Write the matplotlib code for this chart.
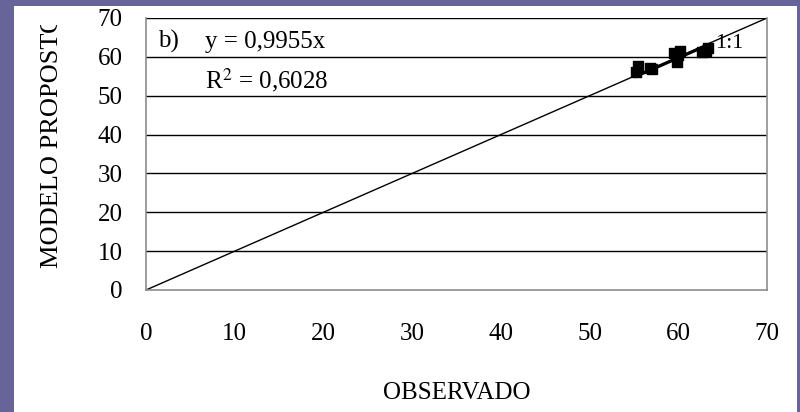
import matplotlib
matplotlib.use("Agg")
import matplotlib.pyplot as plt
from matplotlib.patches import Rectangle
from matplotlib.transforms import Bbox
import numpy as np

plt.rcParams["mathtext.fontset"] = "stix"

# Observed vs. predicted values
observado = [55.2, 55.5, 57.0, 56.8, 59.5, 59.8, 60.0, 60.2, 62.7, 63.1, 63.4]
modelo = [56.0, 57.6, 57.0, 57.2, 61.0, 58.8, 60.4, 61.6, 61.2, 61.5, 62.4]
slope = 0.9955
r2_text = "0,6028"
ticks = [0, 10, 20, 30, 40, 50, 60, 70]

W, H = 800, 412
fig = plt.figure(figsize=(W / 100, H / 100), dpi=100)
fig.patch.set_facecolor("#676499")
fig.patches.append(Rectangle((14 / W, 0), (797 - 14) / W, (H - 6) / H,
                             transform=fig.transFigure, facecolor="white",
                             edgecolor="none", zorder=-5))

serif = ["Liberation Serif", "DejaVu Serif"]
ax = fig.add_axes([146 / W, (H - 290) / H, (767 - 146) / W, (290 - 18) / H])
ax.set_zorder(2)
ax.set_xlim(0, 70)
ax.set_ylim(0, 70)
ax.set_facecolor("white")

for v in ticks[1:]:
    ax.axhline(v, color="black", lw=1.0, zorder=1)

# 1:1 reference line
ax.plot([0, 70], [0, 70], color="black", lw=1.0, zorder=2)
# fitted line through the origin
xf = np.array([min(observado), max(observado)])
ax.plot(xf, slope * xf, color="black", lw=2.2, zorder=3)
ax.scatter(observado, modelo, marker="s", s=55, color="black", zorder=4)

for s in ax.spines.values():
    s.set_color("#8c8c8c")
    s.set_linewidth(1.2)
ax.spines["top"].set_visible(False)

ax.set_xticks(ticks)
ax.set_yticks(ticks)
ax.tick_params(length=0, labelsize=18)
ax.tick_params(axis="x", pad=24)
ax.tick_params(axis="y", pad=17)
for lab in ax.get_xticklabels() + ax.get_yticklabels():
    lab.set_fontfamily(serif)

ax.text(1.35, 62.3, "b)", fontsize=18, family=serif, va="baseline", ha="left")
ax.text(6.6, 62.3, f"y = {str(slope).replace('.', ',')}x", fontsize=18,
        family=serif, va="baseline", ha="left")
ax.text(6.6, 52.0, r"R$^{2}$ = " + r2_text, fontsize=18, family=serif,
        va="baseline", ha="left")
ax.text(64.2, 62.3, "1:1", fontsize=16, family=serif, va="baseline",
        ha="left", zorder=3)

fig.text(457 / W, 1 - 393 / H, "OBSERVADO", fontsize=18, family=serif,
         ha="center", va="center")
yl = fig.text(52 / W, 1 - 141 / H, "MODELO PROPOSTO", fontsize=19,
              family=serif, rotation=90, ha="center", va="center")
yl.set_clip_box(Bbox.from_extents(0, 0, W, H - 25))
yl.set_clip_on(True)

fig.savefig("out.png", dpi=100, facecolor=fig.get_facecolor())
